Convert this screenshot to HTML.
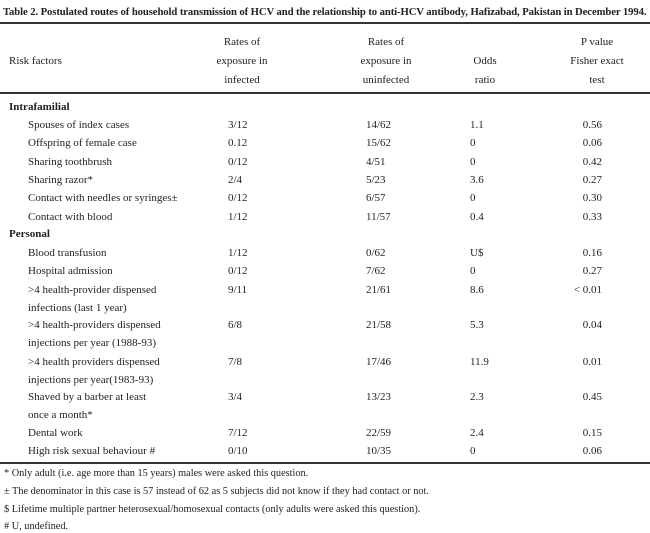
<!DOCTYPE html>
<html><head><meta charset="utf-8"><style>
body{margin:0;width:650px;height:533px;background:#fff;overflow:hidden;position:relative;font-family:"Liberation Serif",serif;color:#222;font-size:11px}
div{position:absolute;white-space:nowrap;line-height:12px}
.l{position:absolute;left:0;width:650px;background:#333}
.c1{left:228px}.c2{left:366px}.c3{left:470px}.c4{right:48px;text-align:right}
.h{text-align:center;width:120px}
.s{left:28px}
.f{left:4px;font-size:10.3px}
</style></head><body>
<div style="left:3px;top:6px;font-weight:bold;font-size:10.7px;letter-spacing:-0.1px">Table 2. Postulated routes of household transmission of HCV and the relationship to anti-HCV antibody, Hafizabad, Pakistan in December 1994.</div>
<span class="l" style="top:22px;height:2px"></span>
<div style="left:9px;top:55px">Risk factors</div>
<div class="h" style="left:182px;top:36px">Rates of</div>
<div class="h" style="left:182px;top:55px">exposure in</div>
<div class="h" style="left:182px;top:74px">infected</div>
<div class="h" style="left:326px;top:36px">Rates of</div>
<div class="h" style="left:326px;top:55px">exposure in</div>
<div class="h" style="left:326px;top:74px">uninfected</div>
<div class="h" style="left:425px;top:55px">Odds</div>
<div class="h" style="left:425px;top:74px">ratio</div>
<div class="h" style="left:537px;top:36px">P value</div>
<div class="h" style="left:537px;top:55px">Fisher exact</div>
<div class="h" style="left:537px;top:74px">test</div>
<span class="l" style="top:92px;height:2px"></span>
<div style="left:9px;top:101px;font-weight:bold">Intrafamilial</div>
<div class="s" style="top:119px">Spouses of index cases</div><div class="c1" style="top:119px">3/12</div><div class="c2" style="top:119px">14/62</div><div class="c3" style="top:119px">1.1</div><div class="c4" style="top:119px">0.56</div>
<div class="s" style="top:137px">Offspring of female case</div><div class="c1" style="top:137px">0.12</div><div class="c2" style="top:137px">15/62</div><div class="c3" style="top:137px">0</div><div class="c4" style="top:137px">0.06</div>
<div class="s" style="top:156px">Sharing toothbrush</div><div class="c1" style="top:156px">0/12</div><div class="c2" style="top:156px">4/51</div><div class="c3" style="top:156px">0</div><div class="c4" style="top:156px">0.42</div>
<div class="s" style="top:174px">Sharing razor*</div><div class="c1" style="top:174px">2/4</div><div class="c2" style="top:174px">5/23</div><div class="c3" style="top:174px">3.6</div><div class="c4" style="top:174px">0.27</div>
<div class="s" style="top:192px">Contact with needles or syringes±</div><div class="c1" style="top:192px">0/12</div><div class="c2" style="top:192px">6/57</div><div class="c3" style="top:192px">0</div><div class="c4" style="top:192px">0.30</div>
<div class="s" style="top:211px">Contact with blood</div><div class="c1" style="top:211px">1/12</div><div class="c2" style="top:211px">11/57</div><div class="c3" style="top:211px">0.4</div><div class="c4" style="top:211px">0.33</div>
<div style="left:9px;top:228px;font-weight:bold">Personal</div>
<div class="s" style="top:247px">Blood transfusion</div><div class="c1" style="top:247px">1/12</div><div class="c2" style="top:247px">0/62</div><div class="c3" style="top:247px">U$</div><div class="c4" style="top:247px">0.16</div>
<div class="s" style="top:265px">Hospital admission</div><div class="c1" style="top:265px">0/12</div><div class="c2" style="top:265px">7/62</div><div class="c3" style="top:265px">0</div><div class="c4" style="top:265px">0.27</div>
<div class="s" style="top:284px">&gt;4 health-provider dispensed</div><div class="c1" style="top:284px">9/11</div><div class="c2" style="top:284px">21/61</div><div class="c3" style="top:284px">8.6</div><div class="c4" style="top:284px">&lt; 0.01</div>
<div class="s" style="top:302px">infections (last 1 year)</div>
<div class="s" style="top:319px">&gt;4 health-providers dispensed</div><div class="c1" style="top:319px">6/8</div><div class="c2" style="top:319px">21/58</div><div class="c3" style="top:319px">5.3</div><div class="c4" style="top:319px">0.04</div>
<div class="s" style="top:337px">injections per year (1988-93)</div>
<div class="s" style="top:356px">&gt;4 health providers dispensed</div><div class="c1" style="top:356px">7/8</div><div class="c2" style="top:356px">17/46</div><div class="c3" style="top:356px">11.9</div><div class="c4" style="top:356px">0.01</div>
<div class="s" style="top:374px">injections per year(1983-93)</div>
<div class="s" style="top:391px">Shaved by a barber at least</div><div class="c1" style="top:391px">3/4</div><div class="c2" style="top:391px">13/23</div><div class="c3" style="top:391px">2.3</div><div class="c4" style="top:391px">0.45</div>
<div class="s" style="top:409px">once a month*</div>
<div class="s" style="top:427px">Dental work</div><div class="c1" style="top:427px">7/12</div><div class="c2" style="top:427px">22/59</div><div class="c3" style="top:427px">2.4</div><div class="c4" style="top:427px">0.15</div>
<div class="s" style="top:445px">High risk sexual behaviour #</div><div class="c1" style="top:445px">0/10</div><div class="c2" style="top:445px">10/35</div><div class="c3" style="top:445px">0</div><div class="c4" style="top:445px">0.06</div>
<span class="l" style="top:462px;height:2px"></span>
<div class="f" style="top:468px">* Only adult (i.e. age more than 15 years) males were asked this question.</div>
<div class="f" style="top:486px">± The denominator in this case is 57 instead of 62 as 5 subjects did not know if they had contact or not.</div>
<div class="f" style="top:504px">$ Lifetime multiple partner heterosexual/homosexual contacts (only adults were asked this question).</div>
<div class="f" style="top:521px"># U, undefined.</div>
</body></html>
